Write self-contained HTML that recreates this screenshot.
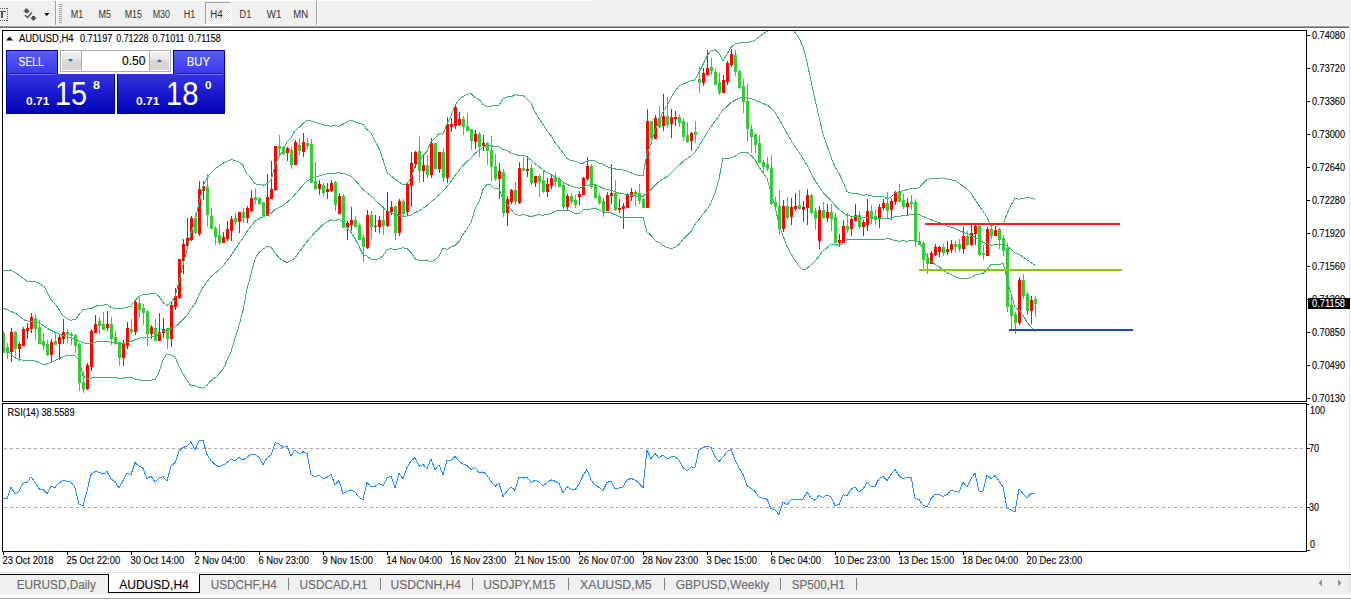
<!DOCTYPE html>
<html><head><meta charset="utf-8"><style>
html,body{margin:0;padding:0;width:1351px;height:600px;overflow:hidden;background:#fff;}
*{box-sizing:border-box;}
svg text{font-family:"Liberation Sans",sans-serif;}
</style></head><body>
<svg width="1351" height="600" viewBox="0 0 1351 600" style="position:absolute;left:0;top:0">
<!-- toolbar -->
<rect x="0" y="0" width="1351" height="26" fill="#f0f0f0"/>
<rect x="0" y="0" width="590" height="1" fill="#ffffff"/>
<rect x="0" y="25" width="1349" height="1" fill="#f8f8f8"/>
<rect x="0" y="26" width="1349" height="1" fill="#a0a0a0"/>
<rect x="0" y="27" width="1349" height="1" fill="#696969"/>
<rect x="1349" y="28" width="1" height="544" fill="#e3e3e3"/>
<g shape-rendering="crispEdges">
<rect x="55" y="1" width="1" height="24" fill="#a0a0a0"/><rect x="56" y="1" width="1" height="24" fill="#fff"/>
<rect x="316" y="1" width="1" height="24" fill="#a0a0a0"/><rect x="317" y="1" width="1" height="24" fill="#fff"/>
</g>
<!-- chart frames -->
<g shape-rendering="crispEdges" fill="none" stroke="#000" stroke-width="1">
<rect x="2.5" y="30.5" width="1304" height="371"/>
<rect x="2.5" y="403.5" width="1304" height="148"/>
</g>
<!-- RSI levels -->
<g shape-rendering="crispEdges">
<line x1="4" y1="448.5" x2="1306" y2="448.5" stroke="#a8a8a8" stroke-dasharray="3,3"/>
<line x1="4" y1="507.5" x2="1306" y2="507.5" stroke="#a8a8a8" stroke-dasharray="3,3"/>
</g>
<svg x="3" y="31" width="1303" height="370" viewBox="3 31 1303 370" overflow="hidden">
<g shape-rendering="crispEdges">
<rect x="3" y="331" width="1" height="22" fill="#32cd32"/><rect x="3" y="333" width="2" height="20" fill="#32cd32"/><rect x="7" y="343" width="1" height="16" fill="#32cd32"/><rect x="6" y="347" width="3" height="6" fill="#32cd32"/><rect x="11" y="328" width="1" height="34" fill="#ff0000"/><rect x="10" y="332" width="3" height="20" fill="#ff0000"/><rect x="15" y="331" width="1" height="28" fill="#32cd32"/><rect x="14" y="332" width="3" height="17" fill="#32cd32"/><rect x="19" y="342" width="1" height="19" fill="#ff0000"/><rect x="18" y="344" width="3" height="5" fill="#ff0000"/><rect x="23" y="327" width="1" height="19" fill="#ff0000"/><rect x="22" y="329" width="3" height="17" fill="#ff0000"/><rect x="27" y="323" width="1" height="16" fill="#ff0000"/><rect x="26" y="328" width="3" height="3" fill="#ff0000"/><rect x="31" y="313" width="1" height="20" fill="#ff0000"/><rect x="30" y="317" width="3" height="12" fill="#ff0000"/><rect x="35" y="314" width="1" height="26" fill="#32cd32"/><rect x="34" y="318" width="3" height="11" fill="#32cd32"/><rect x="39" y="320" width="1" height="24" fill="#32cd32"/><rect x="38" y="327" width="3" height="17" fill="#32cd32"/><rect x="43" y="333" width="1" height="17" fill="#32cd32"/><rect x="42" y="341" width="3" height="5" fill="#32cd32"/><rect x="47" y="340" width="1" height="16" fill="#32cd32"/><rect x="46" y="344" width="3" height="11" fill="#32cd32"/><rect x="51" y="339" width="1" height="22" fill="#ff0000"/><rect x="50" y="342" width="3" height="13" fill="#ff0000"/><rect x="55" y="333" width="1" height="12" fill="#32cd32"/><rect x="54" y="341" width="3" height="4" fill="#32cd32"/><rect x="59" y="335" width="1" height="25" fill="#ff0000"/><rect x="58" y="337" width="3" height="7" fill="#ff0000"/><rect x="63" y="319" width="1" height="25" fill="#ff0000"/><rect x="62" y="332" width="3" height="7" fill="#ff0000"/><rect x="67" y="329" width="1" height="14" fill="#32cd32"/><rect x="66" y="332" width="3" height="3" fill="#32cd32"/><rect x="71" y="332" width="1" height="13" fill="#32cd32"/><rect x="70" y="334" width="3" height="2" fill="#32cd32"/><rect x="75" y="334" width="1" height="19" fill="#32cd32"/><rect x="74" y="335" width="3" height="11" fill="#32cd32"/><rect x="79" y="343" width="1" height="48" fill="#32cd32"/><rect x="78" y="344" width="3" height="39" fill="#32cd32"/><rect x="83" y="371" width="1" height="22" fill="#32cd32"/><rect x="82" y="382" width="3" height="7" fill="#32cd32"/><rect x="87" y="363" width="1" height="27" fill="#ff0000"/><rect x="86" y="365" width="3" height="24" fill="#ff0000"/><rect x="91" y="329" width="1" height="42" fill="#ff0000"/><rect x="90" y="331" width="3" height="36" fill="#ff0000"/><rect x="95" y="315" width="1" height="18" fill="#ff0000"/><rect x="94" y="324" width="3" height="9" fill="#ff0000"/><rect x="99" y="317" width="1" height="17" fill="#32cd32"/><rect x="98" y="321" width="3" height="5" fill="#32cd32"/><rect x="103" y="312" width="1" height="18" fill="#32cd32"/><rect x="102" y="324" width="3" height="6" fill="#32cd32"/><rect x="107" y="311" width="1" height="20" fill="#ff0000"/><rect x="106" y="324" width="3" height="4" fill="#ff0000"/><rect x="111" y="317" width="1" height="28" fill="#32cd32"/><rect x="110" y="324" width="3" height="15" fill="#32cd32"/><rect x="115" y="331" width="1" height="14" fill="#32cd32"/><rect x="114" y="337" width="3" height="7" fill="#32cd32"/><rect x="119" y="342" width="1" height="24" fill="#32cd32"/><rect x="118" y="342" width="3" height="16" fill="#32cd32"/><rect x="123" y="340" width="1" height="26" fill="#ff0000"/><rect x="122" y="343" width="3" height="15" fill="#ff0000"/><rect x="127" y="322" width="1" height="27" fill="#ff0000"/><rect x="126" y="328" width="3" height="18" fill="#ff0000"/><rect x="131" y="319" width="1" height="15" fill="#32cd32"/><rect x="130" y="329" width="3" height="3" fill="#32cd32"/><rect x="135" y="301" width="1" height="34" fill="#ff0000"/><rect x="134" y="302" width="3" height="30" fill="#ff0000"/><rect x="139" y="298" width="1" height="20" fill="#32cd32"/><rect x="138" y="303" width="3" height="7" fill="#32cd32"/><rect x="143" y="304" width="1" height="21" fill="#32cd32"/><rect x="142" y="308" width="3" height="5" fill="#32cd32"/><rect x="147" y="311" width="1" height="35" fill="#32cd32"/><rect x="146" y="311" width="3" height="23" fill="#32cd32"/><rect x="151" y="325" width="1" height="14" fill="#ff0000"/><rect x="150" y="327" width="3" height="7" fill="#ff0000"/><rect x="155" y="319" width="1" height="22" fill="#32cd32"/><rect x="154" y="328" width="3" height="13" fill="#32cd32"/><rect x="159" y="313" width="1" height="28" fill="#ff0000"/><rect x="158" y="332" width="3" height="9" fill="#ff0000"/><rect x="163" y="318" width="1" height="20" fill="#ff0000"/><rect x="162" y="329" width="3" height="4" fill="#ff0000"/><rect x="167" y="328" width="1" height="21" fill="#32cd32"/><rect x="166" y="328" width="3" height="11" fill="#32cd32"/><rect x="171" y="302" width="1" height="45" fill="#ff0000"/><rect x="170" y="305" width="3" height="34" fill="#ff0000"/><rect x="175" y="288" width="1" height="22" fill="#ff0000"/><rect x="174" y="296" width="3" height="11" fill="#ff0000"/><rect x="179" y="259" width="1" height="40" fill="#ff0000"/><rect x="178" y="259" width="3" height="39" fill="#ff0000"/><rect x="183" y="239" width="1" height="35" fill="#ff0000"/><rect x="182" y="244" width="3" height="17" fill="#ff0000"/><rect x="187" y="218" width="1" height="30" fill="#ff0000"/><rect x="186" y="238" width="3" height="8" fill="#ff0000"/><rect x="191" y="216" width="1" height="25" fill="#ff0000"/><rect x="190" y="218" width="3" height="22" fill="#ff0000"/><rect x="195" y="213" width="1" height="21" fill="#32cd32"/><rect x="194" y="218" width="3" height="15" fill="#32cd32"/><rect x="199" y="181" width="1" height="55" fill="#ff0000"/><rect x="198" y="189" width="3" height="45" fill="#ff0000"/><rect x="203" y="181" width="1" height="19" fill="#ff0000"/><rect x="202" y="186" width="3" height="5" fill="#ff0000"/><rect x="207" y="174" width="1" height="53" fill="#32cd32"/><rect x="206" y="187" width="3" height="28" fill="#32cd32"/><rect x="211" y="208" width="1" height="21" fill="#32cd32"/><rect x="210" y="216" width="3" height="13" fill="#32cd32"/><rect x="215" y="226" width="1" height="19" fill="#32cd32"/><rect x="214" y="228" width="3" height="9" fill="#32cd32"/><rect x="219" y="224" width="1" height="21" fill="#32cd32"/><rect x="218" y="235" width="3" height="8" fill="#32cd32"/><rect x="223" y="232" width="1" height="11" fill="#ff0000"/><rect x="222" y="237" width="3" height="6" fill="#ff0000"/><rect x="227" y="221" width="1" height="20" fill="#ff0000"/><rect x="226" y="229" width="3" height="10" fill="#ff0000"/><rect x="231" y="216" width="1" height="25" fill="#ff0000"/><rect x="230" y="219" width="3" height="12" fill="#ff0000"/><rect x="235" y="213" width="1" height="12" fill="#32cd32"/><rect x="234" y="218" width="3" height="4" fill="#32cd32"/><rect x="239" y="212" width="1" height="21" fill="#ff0000"/><rect x="238" y="212" width="3" height="10" fill="#ff0000"/><rect x="243" y="208" width="1" height="15" fill="#32cd32"/><rect x="242" y="212" width="3" height="6" fill="#32cd32"/><rect x="247" y="206" width="1" height="17" fill="#ff0000"/><rect x="246" y="208" width="3" height="10" fill="#ff0000"/><rect x="251" y="190" width="1" height="22" fill="#ff0000"/><rect x="250" y="198" width="3" height="13" fill="#ff0000"/><rect x="255" y="189" width="1" height="15" fill="#32cd32"/><rect x="254" y="197" width="3" height="3" fill="#32cd32"/><rect x="259" y="197" width="1" height="8" fill="#32cd32"/><rect x="258" y="198" width="3" height="6" fill="#32cd32"/><rect x="263" y="202" width="1" height="14" fill="#32cd32"/><rect x="262" y="202" width="3" height="14" fill="#32cd32"/><rect x="267" y="174" width="1" height="42" fill="#ff0000"/><rect x="266" y="197" width="3" height="19" fill="#ff0000"/><rect x="271" y="161" width="1" height="38" fill="#ff0000"/><rect x="270" y="189" width="3" height="10" fill="#ff0000"/><rect x="275" y="146" width="1" height="45" fill="#ff0000"/><rect x="274" y="146" width="3" height="44" fill="#ff0000"/><rect x="279" y="135" width="1" height="20" fill="#32cd32"/><rect x="278" y="146" width="3" height="3" fill="#32cd32"/><rect x="283" y="146" width="1" height="9" fill="#32cd32"/><rect x="282" y="147" width="3" height="7" fill="#32cd32"/><rect x="287" y="147" width="1" height="14" fill="#ff0000"/><rect x="286" y="148" width="3" height="5" fill="#ff0000"/><rect x="291" y="147" width="1" height="22" fill="#32cd32"/><rect x="290" y="150" width="3" height="15" fill="#32cd32"/><rect x="295" y="140" width="1" height="25" fill="#ff0000"/><rect x="294" y="142" width="3" height="23" fill="#ff0000"/><rect x="299" y="138" width="1" height="17" fill="#32cd32"/><rect x="298" y="145" width="3" height="6" fill="#32cd32"/><rect x="303" y="133" width="1" height="24" fill="#ff0000"/><rect x="302" y="142" width="3" height="10" fill="#ff0000"/><rect x="307" y="138" width="1" height="11" fill="#32cd32"/><rect x="306" y="143" width="3" height="3" fill="#32cd32"/><rect x="311" y="139" width="1" height="44" fill="#32cd32"/><rect x="310" y="144" width="3" height="39" fill="#32cd32"/><rect x="315" y="162" width="1" height="28" fill="#32cd32"/><rect x="314" y="181" width="3" height="8" fill="#32cd32"/><rect x="319" y="180" width="1" height="15" fill="#ff0000"/><rect x="318" y="184" width="3" height="5" fill="#ff0000"/><rect x="323" y="183" width="1" height="14" fill="#32cd32"/><rect x="322" y="185" width="3" height="8" fill="#32cd32"/><rect x="327" y="183" width="1" height="16" fill="#ff0000"/><rect x="326" y="189" width="3" height="3" fill="#ff0000"/><rect x="331" y="180" width="1" height="12" fill="#ff0000"/><rect x="330" y="183" width="3" height="8" fill="#ff0000"/><rect x="335" y="181" width="1" height="30" fill="#32cd32"/><rect x="334" y="182" width="3" height="23" fill="#32cd32"/><rect x="339" y="193" width="1" height="21" fill="#ff0000"/><rect x="338" y="196" width="3" height="18" fill="#ff0000"/><rect x="343" y="194" width="1" height="34" fill="#32cd32"/><rect x="342" y="196" width="3" height="32" fill="#32cd32"/><rect x="347" y="221" width="1" height="19" fill="#ff0000"/><rect x="346" y="223" width="3" height="5" fill="#ff0000"/><rect x="351" y="207" width="1" height="24" fill="#ff0000"/><rect x="350" y="220" width="3" height="5" fill="#ff0000"/><rect x="355" y="216" width="1" height="12" fill="#32cd32"/><rect x="354" y="220" width="3" height="7" fill="#32cd32"/><rect x="359" y="223" width="1" height="17" fill="#32cd32"/><rect x="358" y="225" width="3" height="15" fill="#32cd32"/><rect x="363" y="234" width="1" height="28" fill="#32cd32"/><rect x="362" y="237" width="3" height="10" fill="#32cd32"/><rect x="367" y="210" width="1" height="39" fill="#ff0000"/><rect x="366" y="215" width="3" height="33" fill="#ff0000"/><rect x="371" y="211" width="1" height="28" fill="#32cd32"/><rect x="370" y="215" width="3" height="12" fill="#32cd32"/><rect x="375" y="215" width="1" height="17" fill="#ff0000"/><rect x="374" y="226" width="3" height="1" fill="#ff0000"/><rect x="379" y="216" width="1" height="17" fill="#ff0000"/><rect x="378" y="220" width="3" height="7" fill="#ff0000"/><rect x="383" y="206" width="1" height="29" fill="#32cd32"/><rect x="382" y="220" width="3" height="6" fill="#32cd32"/><rect x="387" y="192" width="1" height="35" fill="#ff0000"/><rect x="386" y="211" width="3" height="15" fill="#ff0000"/><rect x="391" y="201" width="1" height="14" fill="#ff0000"/><rect x="390" y="207" width="3" height="5" fill="#ff0000"/><rect x="395" y="206" width="1" height="34" fill="#32cd32"/><rect x="394" y="206" width="3" height="27" fill="#32cd32"/><rect x="399" y="199" width="1" height="37" fill="#ff0000"/><rect x="398" y="201" width="3" height="32" fill="#ff0000"/><rect x="403" y="199" width="1" height="17" fill="#32cd32"/><rect x="402" y="201" width="3" height="13" fill="#32cd32"/><rect x="407" y="184" width="1" height="32" fill="#ff0000"/><rect x="406" y="184" width="3" height="28" fill="#ff0000"/><rect x="411" y="152" width="1" height="55" fill="#ff0000"/><rect x="410" y="163" width="3" height="23" fill="#ff0000"/><rect x="415" y="151" width="1" height="17" fill="#ff0000"/><rect x="414" y="152" width="3" height="12" fill="#ff0000"/><rect x="419" y="137" width="1" height="46" fill="#32cd32"/><rect x="418" y="151" width="3" height="20" fill="#32cd32"/><rect x="423" y="156" width="1" height="26" fill="#ff0000"/><rect x="422" y="165" width="3" height="6" fill="#ff0000"/><rect x="427" y="155" width="1" height="23" fill="#32cd32"/><rect x="426" y="165" width="3" height="10" fill="#32cd32"/><rect x="431" y="138" width="1" height="40" fill="#ff0000"/><rect x="430" y="143" width="3" height="32" fill="#ff0000"/><rect x="435" y="143" width="1" height="26" fill="#32cd32"/><rect x="434" y="143" width="3" height="26" fill="#32cd32"/><rect x="439" y="152" width="1" height="21" fill="#ff0000"/><rect x="438" y="152" width="3" height="17" fill="#ff0000"/><rect x="443" y="148" width="1" height="34" fill="#32cd32"/><rect x="442" y="152" width="3" height="26" fill="#32cd32"/><rect x="447" y="117" width="1" height="66" fill="#ff0000"/><rect x="446" y="124" width="3" height="54" fill="#ff0000"/><rect x="451" y="118" width="1" height="14" fill="#ff0000"/><rect x="450" y="124" width="3" height="3" fill="#ff0000"/><rect x="455" y="104" width="1" height="25" fill="#ff0000"/><rect x="454" y="107" width="3" height="19" fill="#ff0000"/><rect x="459" y="112" width="1" height="14" fill="#ff0000"/><rect x="458" y="119" width="3" height="6" fill="#ff0000"/><rect x="463" y="116" width="1" height="19" fill="#32cd32"/><rect x="462" y="119" width="3" height="8" fill="#32cd32"/><rect x="467" y="113" width="1" height="19" fill="#32cd32"/><rect x="466" y="126" width="3" height="5" fill="#32cd32"/><rect x="471" y="129" width="1" height="21" fill="#32cd32"/><rect x="470" y="129" width="3" height="12" fill="#32cd32"/><rect x="475" y="130" width="1" height="19" fill="#ff0000"/><rect x="474" y="134" width="3" height="8" fill="#ff0000"/><rect x="479" y="132" width="1" height="25" fill="#32cd32"/><rect x="478" y="134" width="3" height="13" fill="#32cd32"/><rect x="483" y="135" width="1" height="16" fill="#ff0000"/><rect x="482" y="143" width="3" height="3" fill="#ff0000"/><rect x="487" y="142" width="1" height="23" fill="#32cd32"/><rect x="486" y="143" width="3" height="8" fill="#32cd32"/><rect x="491" y="136" width="1" height="45" fill="#32cd32"/><rect x="490" y="150" width="3" height="17" fill="#32cd32"/><rect x="495" y="154" width="1" height="27" fill="#32cd32"/><rect x="494" y="166" width="3" height="13" fill="#32cd32"/><rect x="499" y="163" width="1" height="36" fill="#ff0000"/><rect x="498" y="171" width="3" height="8" fill="#ff0000"/><rect x="503" y="169" width="1" height="48" fill="#32cd32"/><rect x="502" y="172" width="3" height="41" fill="#32cd32"/><rect x="507" y="196" width="1" height="30" fill="#ff0000"/><rect x="506" y="199" width="3" height="14" fill="#ff0000"/><rect x="511" y="189" width="1" height="15" fill="#ff0000"/><rect x="510" y="190" width="3" height="12" fill="#ff0000"/><rect x="515" y="182" width="1" height="23" fill="#32cd32"/><rect x="514" y="190" width="3" height="12" fill="#32cd32"/><rect x="519" y="162" width="1" height="42" fill="#ff0000"/><rect x="518" y="168" width="3" height="35" fill="#ff0000"/><rect x="523" y="157" width="1" height="14" fill="#32cd32"/><rect x="522" y="168" width="3" height="3" fill="#32cd32"/><rect x="527" y="156" width="1" height="21" fill="#ff0000"/><rect x="526" y="169" width="3" height="2" fill="#ff0000"/><rect x="531" y="164" width="1" height="21" fill="#32cd32"/><rect x="530" y="168" width="3" height="15" fill="#32cd32"/><rect x="535" y="176" width="1" height="11" fill="#ff0000"/><rect x="534" y="176" width="3" height="7" fill="#ff0000"/><rect x="539" y="174" width="1" height="23" fill="#32cd32"/><rect x="538" y="176" width="3" height="6" fill="#32cd32"/><rect x="543" y="170" width="1" height="23" fill="#32cd32"/><rect x="542" y="180" width="3" height="12" fill="#32cd32"/><rect x="547" y="178" width="1" height="19" fill="#ff0000"/><rect x="546" y="184" width="3" height="8" fill="#ff0000"/><rect x="551" y="175" width="1" height="14" fill="#ff0000"/><rect x="550" y="178" width="3" height="8" fill="#ff0000"/><rect x="555" y="173" width="1" height="14" fill="#32cd32"/><rect x="554" y="177" width="3" height="5" fill="#32cd32"/><rect x="559" y="177" width="1" height="10" fill="#32cd32"/><rect x="558" y="179" width="3" height="8" fill="#32cd32"/><rect x="563" y="182" width="1" height="27" fill="#32cd32"/><rect x="562" y="185" width="3" height="22" fill="#32cd32"/><rect x="567" y="194" width="1" height="17" fill="#ff0000"/><rect x="566" y="196" width="3" height="11" fill="#ff0000"/><rect x="571" y="193" width="1" height="11" fill="#32cd32"/><rect x="570" y="196" width="3" height="6" fill="#32cd32"/><rect x="575" y="195" width="1" height="13" fill="#32cd32"/><rect x="574" y="200" width="3" height="5" fill="#32cd32"/><rect x="579" y="191" width="1" height="14" fill="#ff0000"/><rect x="578" y="194" width="3" height="3" fill="#ff0000"/><rect x="583" y="177" width="1" height="18" fill="#ff0000"/><rect x="582" y="178" width="3" height="17" fill="#ff0000"/><rect x="587" y="157" width="1" height="24" fill="#ff0000"/><rect x="586" y="166" width="3" height="13" fill="#ff0000"/><rect x="591" y="164" width="1" height="25" fill="#32cd32"/><rect x="590" y="166" width="3" height="21" fill="#32cd32"/><rect x="595" y="184" width="1" height="15" fill="#32cd32"/><rect x="594" y="185" width="3" height="13" fill="#32cd32"/><rect x="599" y="193" width="1" height="12" fill="#32cd32"/><rect x="598" y="196" width="3" height="7" fill="#32cd32"/><rect x="603" y="198" width="1" height="19" fill="#32cd32"/><rect x="602" y="201" width="3" height="10" fill="#32cd32"/><rect x="607" y="192" width="1" height="19" fill="#ff0000"/><rect x="606" y="195" width="3" height="16" fill="#ff0000"/><rect x="611" y="164" width="1" height="40" fill="#ff0000"/><rect x="610" y="193" width="3" height="3" fill="#ff0000"/><rect x="615" y="180" width="1" height="31" fill="#32cd32"/><rect x="614" y="193" width="3" height="17" fill="#32cd32"/><rect x="619" y="199" width="1" height="14" fill="#ff0000"/><rect x="618" y="208" width="3" height="2" fill="#ff0000"/><rect x="623" y="203" width="1" height="26" fill="#ff0000"/><rect x="622" y="206" width="3" height="3" fill="#ff0000"/><rect x="627" y="193" width="1" height="15" fill="#ff0000"/><rect x="626" y="194" width="3" height="14" fill="#ff0000"/><rect x="631" y="188" width="1" height="13" fill="#ff0000"/><rect x="630" y="192" width="3" height="5" fill="#ff0000"/><rect x="635" y="190" width="1" height="16" fill="#32cd32"/><rect x="634" y="192" width="3" height="3" fill="#32cd32"/><rect x="639" y="184" width="1" height="20" fill="#32cd32"/><rect x="638" y="193" width="3" height="8" fill="#32cd32"/><rect x="643" y="198" width="1" height="10" fill="#32cd32"/><rect x="642" y="199" width="3" height="9" fill="#32cd32"/><rect x="647" y="109" width="1" height="99" fill="#ff0000"/><rect x="646" y="121" width="3" height="87" fill="#ff0000"/><rect x="651" y="121" width="1" height="18" fill="#32cd32"/><rect x="650" y="121" width="3" height="17" fill="#32cd32"/><rect x="655" y="115" width="1" height="24" fill="#ff0000"/><rect x="654" y="118" width="3" height="21" fill="#ff0000"/><rect x="659" y="106" width="1" height="22" fill="#32cd32"/><rect x="658" y="118" width="3" height="9" fill="#32cd32"/><rect x="663" y="94" width="1" height="37" fill="#ff0000"/><rect x="662" y="116" width="3" height="10" fill="#ff0000"/><rect x="667" y="97" width="1" height="31" fill="#32cd32"/><rect x="666" y="116" width="3" height="9" fill="#32cd32"/><rect x="671" y="109" width="1" height="29" fill="#ff0000"/><rect x="670" y="117" width="3" height="7" fill="#ff0000"/><rect x="675" y="111" width="1" height="15" fill="#ff0000"/><rect x="674" y="117" width="3" height="2" fill="#ff0000"/><rect x="679" y="114" width="1" height="13" fill="#32cd32"/><rect x="678" y="117" width="3" height="6" fill="#32cd32"/><rect x="683" y="118" width="1" height="23" fill="#32cd32"/><rect x="682" y="121" width="3" height="16" fill="#32cd32"/><rect x="687" y="122" width="1" height="21" fill="#32cd32"/><rect x="686" y="135" width="3" height="7" fill="#32cd32"/><rect x="691" y="132" width="1" height="19" fill="#ff0000"/><rect x="690" y="133" width="3" height="8" fill="#ff0000"/><rect x="695" y="121" width="1" height="22" fill="#32cd32"/><rect x="694" y="132" width="3" height="3" fill="#32cd32"/><rect x="699" y="67" width="1" height="26" fill="#32cd32"/><rect x="698" y="79" width="3" height="4" fill="#32cd32"/><rect x="703" y="68" width="1" height="18" fill="#ff0000"/><rect x="702" y="73" width="3" height="10" fill="#ff0000"/><rect x="707" y="50" width="1" height="26" fill="#ff0000"/><rect x="706" y="68" width="3" height="7" fill="#ff0000"/><rect x="711" y="58" width="1" height="17" fill="#32cd32"/><rect x="710" y="67" width="3" height="4" fill="#32cd32"/><rect x="715" y="68" width="1" height="17" fill="#32cd32"/><rect x="714" y="72" width="3" height="13" fill="#32cd32"/><rect x="719" y="73" width="1" height="22" fill="#32cd32"/><rect x="718" y="82" width="3" height="11" fill="#32cd32"/><rect x="723" y="75" width="1" height="18" fill="#ff0000"/><rect x="722" y="80" width="3" height="13" fill="#ff0000"/><rect x="727" y="61" width="1" height="24" fill="#ff0000"/><rect x="726" y="63" width="3" height="19" fill="#ff0000"/><rect x="731" y="49" width="1" height="18" fill="#ff0000"/><rect x="730" y="54" width="3" height="11" fill="#ff0000"/><rect x="735" y="50" width="1" height="26" fill="#32cd32"/><rect x="734" y="55" width="3" height="17" fill="#32cd32"/><rect x="739" y="70" width="1" height="19" fill="#32cd32"/><rect x="738" y="71" width="3" height="17" fill="#32cd32"/><rect x="743" y="79" width="1" height="34" fill="#32cd32"/><rect x="742" y="86" width="3" height="16" fill="#32cd32"/><rect x="747" y="84" width="1" height="58" fill="#32cd32"/><rect x="746" y="101" width="3" height="28" fill="#32cd32"/><rect x="751" y="125" width="1" height="28" fill="#32cd32"/><rect x="750" y="129" width="3" height="8" fill="#32cd32"/><rect x="755" y="134" width="1" height="19" fill="#32cd32"/><rect x="754" y="134" width="3" height="11" fill="#32cd32"/><rect x="759" y="135" width="1" height="28" fill="#32cd32"/><rect x="758" y="143" width="3" height="20" fill="#32cd32"/><rect x="763" y="160" width="1" height="13" fill="#32cd32"/><rect x="762" y="162" width="3" height="5" fill="#32cd32"/><rect x="767" y="157" width="1" height="14" fill="#32cd32"/><rect x="766" y="164" width="3" height="5" fill="#32cd32"/><rect x="771" y="155" width="1" height="50" fill="#32cd32"/><rect x="770" y="168" width="3" height="36" fill="#32cd32"/><rect x="775" y="197" width="1" height="12" fill="#32cd32"/><rect x="774" y="202" width="3" height="5" fill="#32cd32"/><rect x="779" y="190" width="1" height="45" fill="#32cd32"/><rect x="778" y="206" width="3" height="23" fill="#32cd32"/><rect x="783" y="200" width="1" height="32" fill="#ff0000"/><rect x="782" y="206" width="3" height="23" fill="#ff0000"/><rect x="787" y="197" width="1" height="22" fill="#32cd32"/><rect x="786" y="206" width="3" height="12" fill="#32cd32"/><rect x="791" y="198" width="1" height="27" fill="#ff0000"/><rect x="790" y="207" width="3" height="10" fill="#ff0000"/><rect x="795" y="193" width="1" height="18" fill="#ff0000"/><rect x="794" y="206" width="3" height="3" fill="#ff0000"/><rect x="799" y="190" width="1" height="20" fill="#32cd32"/><rect x="798" y="205" width="3" height="4" fill="#32cd32"/><rect x="803" y="201" width="1" height="21" fill="#ff0000"/><rect x="802" y="207" width="3" height="3" fill="#ff0000"/><rect x="807" y="189" width="1" height="36" fill="#ff0000"/><rect x="806" y="195" width="3" height="13" fill="#ff0000"/><rect x="811" y="194" width="1" height="20" fill="#32cd32"/><rect x="810" y="195" width="3" height="18" fill="#32cd32"/><rect x="815" y="208" width="1" height="22" fill="#32cd32"/><rect x="814" y="211" width="3" height="8" fill="#32cd32"/><rect x="819" y="206" width="1" height="43" fill="#ff0000"/><rect x="818" y="210" width="3" height="31" fill="#ff0000"/><rect x="823" y="202" width="1" height="17" fill="#32cd32"/><rect x="822" y="210" width="3" height="8" fill="#32cd32"/><rect x="827" y="204" width="1" height="18" fill="#ff0000"/><rect x="826" y="212" width="3" height="6" fill="#ff0000"/><rect x="831" y="204" width="1" height="27" fill="#32cd32"/><rect x="830" y="212" width="3" height="7" fill="#32cd32"/><rect x="835" y="213" width="1" height="30" fill="#32cd32"/><rect x="834" y="217" width="3" height="26" fill="#32cd32"/><rect x="839" y="234" width="1" height="13" fill="#ff0000"/><rect x="838" y="240" width="3" height="3" fill="#ff0000"/><rect x="843" y="220" width="1" height="23" fill="#ff0000"/><rect x="842" y="226" width="3" height="17" fill="#ff0000"/><rect x="847" y="213" width="1" height="20" fill="#32cd32"/><rect x="846" y="226" width="3" height="4" fill="#32cd32"/><rect x="851" y="216" width="1" height="20" fill="#ff0000"/><rect x="850" y="219" width="3" height="10" fill="#ff0000"/><rect x="855" y="204" width="1" height="17" fill="#ff0000"/><rect x="854" y="215" width="3" height="6" fill="#ff0000"/><rect x="859" y="211" width="1" height="18" fill="#32cd32"/><rect x="858" y="215" width="3" height="12" fill="#32cd32"/><rect x="863" y="220" width="1" height="16" fill="#ff0000"/><rect x="862" y="222" width="3" height="5" fill="#ff0000"/><rect x="867" y="199" width="1" height="32" fill="#ff0000"/><rect x="866" y="211" width="3" height="14" fill="#ff0000"/><rect x="871" y="205" width="1" height="19" fill="#32cd32"/><rect x="870" y="211" width="3" height="8" fill="#32cd32"/><rect x="875" y="209" width="1" height="16" fill="#32cd32"/><rect x="874" y="216" width="3" height="4" fill="#32cd32"/><rect x="879" y="204" width="1" height="24" fill="#ff0000"/><rect x="878" y="207" width="3" height="12" fill="#ff0000"/><rect x="883" y="199" width="1" height="11" fill="#ff0000"/><rect x="882" y="203" width="3" height="5" fill="#ff0000"/><rect x="887" y="192" width="1" height="26" fill="#32cd32"/><rect x="886" y="203" width="3" height="8" fill="#32cd32"/><rect x="891" y="199" width="1" height="21" fill="#ff0000"/><rect x="890" y="201" width="3" height="9" fill="#ff0000"/><rect x="895" y="191" width="1" height="14" fill="#ff0000"/><rect x="894" y="192" width="3" height="10" fill="#ff0000"/><rect x="899" y="184" width="1" height="18" fill="#32cd32"/><rect x="898" y="192" width="3" height="10" fill="#32cd32"/><rect x="903" y="194" width="1" height="15" fill="#32cd32"/><rect x="902" y="200" width="3" height="7" fill="#32cd32"/><rect x="907" y="198" width="1" height="17" fill="#ff0000"/><rect x="906" y="203" width="3" height="4" fill="#ff0000"/><rect x="911" y="195" width="1" height="15" fill="#32cd32"/><rect x="910" y="202" width="3" height="2" fill="#32cd32"/><rect x="915" y="199" width="1" height="48" fill="#32cd32"/><rect x="914" y="202" width="3" height="40" fill="#32cd32"/><rect x="919" y="232" width="1" height="13" fill="#32cd32"/><rect x="918" y="241" width="3" height="4" fill="#32cd32"/><rect x="923" y="241" width="1" height="29" fill="#32cd32"/><rect x="922" y="243" width="3" height="17" fill="#32cd32"/><rect x="927" y="253" width="1" height="21" fill="#32cd32"/><rect x="926" y="258" width="3" height="6" fill="#32cd32"/><rect x="931" y="251" width="1" height="13" fill="#ff0000"/><rect x="930" y="253" width="3" height="11" fill="#ff0000"/><rect x="935" y="244" width="1" height="12" fill="#ff0000"/><rect x="934" y="247" width="3" height="8" fill="#ff0000"/><rect x="939" y="246" width="1" height="11" fill="#ff0000"/><rect x="938" y="247" width="3" height="5" fill="#ff0000"/><rect x="943" y="244" width="1" height="12" fill="#32cd32"/><rect x="942" y="247" width="3" height="6" fill="#32cd32"/><rect x="947" y="241" width="1" height="14" fill="#ff0000"/><rect x="946" y="249" width="3" height="3" fill="#ff0000"/><rect x="951" y="240" width="1" height="13" fill="#ff0000"/><rect x="950" y="244" width="3" height="6" fill="#ff0000"/><rect x="955" y="241" width="1" height="12" fill="#32cd32"/><rect x="954" y="244" width="3" height="3" fill="#32cd32"/><rect x="959" y="239" width="1" height="13" fill="#32cd32"/><rect x="958" y="244" width="3" height="5" fill="#32cd32"/><rect x="963" y="227" width="1" height="27" fill="#ff0000"/><rect x="962" y="236" width="3" height="13" fill="#ff0000"/><rect x="967" y="231" width="1" height="15" fill="#32cd32"/><rect x="966" y="236" width="3" height="9" fill="#32cd32"/><rect x="971" y="225" width="1" height="21" fill="#ff0000"/><rect x="970" y="233" width="3" height="12" fill="#ff0000"/><rect x="975" y="225" width="1" height="20" fill="#ff0000"/><rect x="974" y="226" width="3" height="8" fill="#ff0000"/><rect x="979" y="225" width="1" height="31" fill="#32cd32"/><rect x="978" y="226" width="3" height="29" fill="#32cd32"/><rect x="983" y="245" width="1" height="15" fill="#32cd32"/><rect x="982" y="253" width="3" height="2" fill="#32cd32"/><rect x="987" y="227" width="1" height="29" fill="#ff0000"/><rect x="986" y="229" width="3" height="27" fill="#ff0000"/><rect x="991" y="225" width="1" height="14" fill="#32cd32"/><rect x="990" y="229" width="3" height="7" fill="#32cd32"/><rect x="995" y="226" width="1" height="10" fill="#ff0000"/><rect x="994" y="230" width="3" height="6" fill="#ff0000"/><rect x="999" y="228" width="1" height="21" fill="#32cd32"/><rect x="998" y="229" width="3" height="11" fill="#32cd32"/><rect x="1003" y="235" width="1" height="21" fill="#32cd32"/><rect x="1002" y="238" width="3" height="13" fill="#32cd32"/><rect x="1007" y="243" width="1" height="69" fill="#32cd32"/><rect x="1006" y="248" width="3" height="59" fill="#32cd32"/><rect x="1011" y="295" width="1" height="35" fill="#32cd32"/><rect x="1010" y="305" width="3" height="11" fill="#32cd32"/><rect x="1015" y="312" width="1" height="22" fill="#32cd32"/><rect x="1014" y="314" width="3" height="9" fill="#32cd32"/><rect x="1019" y="277" width="1" height="48" fill="#ff0000"/><rect x="1018" y="280" width="3" height="43" fill="#ff0000"/><rect x="1023" y="274" width="1" height="25" fill="#32cd32"/><rect x="1022" y="280" width="3" height="16" fill="#32cd32"/><rect x="1027" y="292" width="1" height="23" fill="#32cd32"/><rect x="1026" y="294" width="3" height="17" fill="#32cd32"/><rect x="1031" y="296" width="1" height="28" fill="#ff0000"/><rect x="1030" y="300" width="3" height="11" fill="#ff0000"/><rect x="1035" y="296" width="1" height="21" fill="#32cd32"/><rect x="1034" y="299" width="3" height="5" fill="#32cd32"/>
</g>
<g fill="none" stroke="#3cb371" stroke-width="1" shape-rendering="crispEdges">
<polyline points="2.8,270.5 10.5,270.0 17.5,274.0 26.8,281.0 37.3,282.2 44.3,286.8 50.2,298.5 57.2,306.7 63.0,316.0 70.0,320.2 75.8,319.5 79.0,314.4 83.0,309.5 87.0,309.0 91.0,308.8 95.0,306.7 99.0,305.0 103.0,305.1 107.0,304.5 111.0,307.3 115.0,308.7 119.0,308.9 123.0,308.9 127.0,307.3 131.0,306.3 135.0,300.4 139.0,296.7 143.0,294.3 147.0,294.3 151.0,293.6 155.0,293.5 159.0,296.4 163.0,302.7 167.0,305.6 171.0,302.0 175.0,297.1 179.0,281.5 183.0,265.0 187.0,250.1 191.0,232.5 195.0,221.6 199.0,202.9 203.0,186.5 207.0,177.8 211.0,172.8 215.0,168.8 219.0,166.0 223.0,163.2 227.0,161.5 231.0,159.4 235.0,160.7 239.0,161.8 243.0,165.5 247.0,174.1 251.0,178.0 255.0,183.9 259.0,184.6 263.0,185.2 267.0,183.6 271.0,180.2 275.0,165.8 279.0,156.8 283.0,150.5 287.0,142.0 291.0,137.8 295.0,130.9 299.0,127.4 303.0,123.4 307.0,120.2 311.0,120.9 315.0,122.4 319.0,123.2 323.0,124.8 327.0,125.7 331.0,126.1 335.0,125.8 339.0,126.2 343.0,124.3 347.0,122.0 351.0,120.2 355.0,122.1 359.0,123.3 363.0,124.4 367.0,129.7 371.0,132.7 375.0,140.7 379.0,148.4 383.0,159.5 387.0,172.4 391.0,176.0 395.0,179.0 399.0,182.0 403.0,184.8 407.0,183.7 411.0,177.8 415.0,166.3 419.0,161.9 423.0,155.5 427.0,151.5 431.0,141.6 435.0,138.1 439.0,133.4 443.0,134.2 447.0,123.8 451.0,115.9 455.0,105.7 459.0,99.6 463.0,96.7 467.0,94.3 471.0,93.7 475.0,97.6 479.0,99.3 483.0,104.6 487.0,106.4 491.0,106.2 495.0,105.1 499.0,105.0 503.0,99.2 507.0,96.8 511.0,96.7 515.0,94.8 519.0,95.3 523.0,95.4 527.0,99.1 531.0,103.2 535.0,111.8 539.0,118.6 543.0,124.6 547.0,130.9 551.0,135.5 555.0,142.6 559.0,147.5 563.0,152.9 567.0,158.5 571.0,160.7 575.0,161.1 579.0,163.1 583.0,163.4 587.0,160.9 591.0,160.7 595.0,161.0 599.0,162.9 603.0,164.0 607.0,166.9 611.0,167.6 615.0,168.9 619.0,169.8 623.0,170.0 627.0,170.9 631.0,172.8 635.0,174.4 639.0,175.6 643.0,175.6 647.0,153.7 651.0,143.8 655.0,130.3 659.0,121.4 663.0,111.9 667.0,105.8 671.0,98.0 675.0,91.0 679.0,86.0 683.0,84.0 687.0,82.4 691.0,80.3 695.0,80.0 699.0,72.3 703.0,64.6 707.0,56.6 711.0,50.7 715.0,49.7 719.0,53.2 723.0,61.0 727.0,54.3 731.0,47.4 735.0,44.0 739.0,43.0 743.0,42.9 747.0,42.6 751.0,41.7 755.0,40.1 759.0,36.8 763.0,34.0 767.0,31.5 771.0,24.1 775.0,18.0 779.0,13.7 783.0,16.1 787.0,20.2 791.0,26.7 795.0,32.4 799.0,38.0 803.0,47.0 807.0,61.7 811.0,81.2 815.0,99.4 819.0,117.0 823.0,133.9 827.0,145.5 831.0,157.2 835.0,166.9 839.0,173.3 843.0,181.7 847.0,191.6 851.0,193.1 855.0,193.9 859.0,194.0 863.0,195.3 867.0,194.8 871.0,195.8 875.0,197.0 879.0,196.9 883.0,196.2 887.0,199.1 891.0,197.2 895.0,193.0 899.0,191.6 903.0,190.7 907.0,189.6 911.0,188.3 915.0,188.5 919.0,187.8 923.0,183.6 927.0,179.7 931.0,178.5 935.0,178.6 939.0,178.2 943.0,177.9 947.0,179.0 951.0,179.8 955.0,180.6 959.0,183.0 963.0,186.3 967.0,188.9 971.0,193.2 975.0,199.5 979.0,205.5 983.0,211.2 987.0,217.3 991.0,226.2 995.0,224.6 999.0,224.2 1003.0,224.7 1007.0,213.7 1011.0,205.1 1015.0,198.6 1019.0,199.1 1023.0,198.6 1027.0,197.3 1031.0,198.2 1035.0,199.2"/>
<polyline points="3.0,307.9 15.8,313.4 23.7,319.8 30.0,321.4 39.6,323.0 47.5,328.5 55.4,332.4 66.5,337.2 75.0,338.5 79.0,341.1 83.0,342.9 87.0,343.5 91.0,343.4 95.0,342.3 99.0,341.3 103.0,341.4 107.0,341.1 111.0,342.2 115.0,343.0 119.0,343.7 123.0,343.6 127.0,342.3 131.0,341.8 135.0,339.7 139.0,338.3 143.0,337.3 147.0,337.3 151.0,336.9 155.0,336.6 159.0,334.1 163.0,331.1 167.0,329.8 171.0,328.5 175.0,327.1 179.0,323.7 183.0,319.5 187.0,315.2 191.0,309.2 195.0,303.6 199.0,295.2 203.0,287.4 207.0,281.7 211.0,276.5 215.0,273.2 219.0,269.9 223.0,266.2 227.0,260.9 231.0,255.5 235.0,249.6 239.0,243.6 243.0,238.0 247.0,231.5 251.0,226.2 255.0,221.4 259.0,218.6 263.0,217.1 267.0,215.1 271.0,213.7 275.0,209.4 279.0,207.3 283.0,205.7 287.0,202.4 291.0,199.1 295.0,194.4 299.0,189.8 303.0,185.0 307.0,180.8 311.0,179.0 315.0,177.3 319.0,175.9 323.0,174.7 327.0,173.7 331.0,173.0 335.0,173.2 339.0,172.8 343.0,173.5 347.0,174.7 351.0,176.3 355.0,180.3 359.0,184.8 363.0,189.5 367.0,192.8 371.0,196.0 375.0,200.1 379.0,203.6 383.0,207.7 387.0,211.0 391.0,212.3 395.0,214.5 399.0,215.3 403.0,216.4 407.0,216.1 411.0,215.1 415.0,212.5 419.0,211.2 423.0,208.1 427.0,205.7 431.0,201.8 435.0,198.9 439.0,194.6 443.0,191.2 447.0,186.6 451.0,181.5 455.0,175.5 459.0,170.5 463.0,165.6 467.0,161.5 471.0,158.2 475.0,153.3 479.0,150.5 483.0,147.1 487.0,145.4 491.0,145.5 495.0,146.9 499.0,146.9 503.0,149.3 507.0,150.5 511.0,152.9 515.0,154.5 519.0,155.3 523.0,155.0 527.0,157.2 531.0,160.1 535.0,163.6 539.0,166.7 543.0,169.9 547.0,172.6 551.0,174.5 555.0,176.9 559.0,178.9 563.0,182.0 567.0,184.3 571.0,186.1 575.0,187.3 579.0,188.4 583.0,186.7 587.0,185.1 591.0,184.9 595.0,184.6 599.0,186.3 603.0,188.3 607.0,189.6 611.0,190.2 615.0,191.8 619.0,193.2 623.0,193.9 627.0,194.4 631.0,195.1 635.0,195.8 639.0,196.5 643.0,196.6 647.0,192.8 651.0,189.6 655.0,185.3 659.0,181.9 663.0,178.8 667.0,176.7 671.0,173.3 675.0,169.3 679.0,165.3 683.0,161.6 687.0,158.9 691.0,155.9 695.0,152.2 699.0,145.9 703.0,139.3 707.0,132.9 711.0,126.8 715.0,121.3 719.0,115.9 723.0,109.5 727.0,106.7 731.0,102.5 735.0,100.2 739.0,98.2 743.0,97.5 747.0,97.7 751.0,98.6 755.0,100.0 759.0,102.0 763.0,103.5 767.0,104.8 771.0,108.3 775.0,112.0 779.0,119.3 783.0,125.9 787.0,133.4 791.0,140.2 795.0,146.4 799.0,152.1 803.0,158.5 807.0,165.1 811.0,173.0 815.0,180.4 819.0,186.5 823.0,192.3 827.0,196.6 831.0,200.7 835.0,205.5 839.0,209.4 843.0,212.4 847.0,215.5 851.0,216.3 855.0,216.7 859.0,216.6 863.0,217.4 867.0,217.1 871.0,217.6 875.0,218.2 879.0,218.2 883.0,218.0 887.0,218.7 891.0,218.2 895.0,216.8 899.0,216.3 903.0,215.8 907.0,215.3 911.0,214.6 915.0,214.5 919.0,214.7 923.0,216.4 927.0,218.1 931.0,219.8 935.0,221.4 939.0,222.5 943.0,223.9 947.0,225.9 951.0,227.2 955.0,228.5 959.0,230.6 963.0,232.2 967.0,233.9 971.0,235.5 975.0,237.2 979.0,239.9 983.0,242.3 987.0,243.6 991.0,245.2 995.0,244.7 999.0,244.4 1003.0,244.0 1007.0,246.1 1011.0,249.2 1015.0,252.9 1019.0,254.6 1023.0,256.8 1027.0,259.8 1031.0,262.6 1035.0,265.4"/>
<polyline points="3.0,347.5 7.1,350.6 11.0,353.8 15.8,358.5 22.0,360.0 33.0,360.0 44.3,364.9 52.2,361.7 66.5,355.4 74.4,355.4 79.0,360.0 83.0,376.3 87.0,378.1 91.0,378.1 95.0,377.8 99.0,377.6 103.0,377.6 107.0,377.8 111.0,377.1 115.0,377.2 119.0,378.4 123.0,378.4 127.0,377.4 131.0,377.2 135.0,379.0 139.0,379.9 143.0,380.3 147.0,380.3 151.0,380.1 155.0,379.7 159.0,371.8 163.0,359.6 167.0,353.9 171.0,354.9 175.0,357.0 179.0,365.9 183.0,374.0 187.0,380.2 191.0,385.8 195.0,385.6 199.0,387.5 203.0,388.2 207.0,385.5 211.0,380.3 215.0,377.7 219.0,373.9 223.0,369.1 227.0,360.3 231.0,351.7 235.0,338.5 239.0,325.5 243.0,310.6 247.0,288.9 251.0,274.4 255.0,258.8 259.0,252.5 263.0,249.0 267.0,246.6 271.0,247.1 275.0,252.9 279.0,257.8 283.0,260.8 287.0,262.7 291.0,260.5 295.0,258.0 299.0,252.2 303.0,246.7 307.0,241.5 311.0,237.0 315.0,232.2 319.0,228.7 323.0,224.6 327.0,221.8 331.0,219.8 335.0,220.6 339.0,219.4 343.0,222.6 347.0,227.5 351.0,232.4 355.0,238.5 359.0,246.3 363.0,254.6 367.0,255.9 371.0,259.2 375.0,259.6 379.0,258.8 383.0,255.9 387.0,249.6 391.0,248.6 395.0,249.9 399.0,248.6 403.0,247.9 407.0,248.6 411.0,252.4 415.0,258.8 419.0,260.6 423.0,260.8 427.0,259.9 431.0,262.0 435.0,259.8 439.0,255.8 443.0,248.1 447.0,249.4 451.0,247.1 455.0,245.4 459.0,241.5 463.0,234.5 467.0,228.8 471.0,222.7 475.0,208.9 479.0,201.8 483.0,189.5 487.0,184.4 491.0,184.9 495.0,188.7 499.0,188.9 503.0,199.4 507.0,204.2 511.0,209.1 515.0,214.3 519.0,215.3 523.0,214.6 527.0,215.3 531.0,217.1 535.0,215.4 539.0,214.7 543.0,215.2 547.0,214.4 551.0,213.5 555.0,211.2 559.0,210.2 563.0,211.1 567.0,210.1 571.0,211.4 575.0,213.5 579.0,213.7 583.0,210.1 587.0,209.3 591.0,209.0 595.0,208.3 599.0,209.8 603.0,212.6 607.0,212.4 611.0,212.7 615.0,214.7 619.0,216.5 623.0,217.8 627.0,217.9 631.0,217.4 635.0,217.2 639.0,217.4 643.0,217.5 647.0,231.9 651.0,235.4 655.0,240.3 659.0,242.4 663.0,245.7 667.0,247.6 671.0,248.6 675.0,247.6 679.0,244.7 683.0,239.3 687.0,235.5 691.0,231.6 695.0,224.4 699.0,219.5 703.0,214.0 707.0,209.3 711.0,202.9 715.0,192.8 719.0,178.7 723.0,158.1 727.0,159.0 731.0,157.6 735.0,156.4 739.0,153.4 743.0,152.0 747.0,152.7 751.0,155.5 755.0,159.8 759.0,167.1 763.0,172.9 767.0,178.1 771.0,192.5 775.0,206.0 779.0,224.9 783.0,235.7 787.0,246.5 791.0,253.8 795.0,260.3 799.0,266.3 803.0,270.0 807.0,268.6 811.0,264.8 815.0,261.3 819.0,256.1 823.0,250.8 827.0,247.6 831.0,244.1 835.0,244.2 839.0,245.5 843.0,243.1 847.0,239.4 851.0,239.5 855.0,239.5 859.0,239.1 863.0,239.5 867.0,239.4 871.0,239.5 875.0,239.5 879.0,239.5 883.0,239.8 887.0,238.3 891.0,239.1 895.0,240.7 899.0,241.1 903.0,240.9 907.0,241.1 911.0,240.8 915.0,240.6 919.0,241.6 923.0,249.1 927.0,256.5 931.0,261.1 935.0,264.3 939.0,266.7 943.0,270.0 947.0,272.8 951.0,274.6 955.0,276.5 959.0,278.1 963.0,278.1 967.0,278.9 971.0,277.8 975.0,274.8 979.0,274.2 983.0,273.4 987.0,269.8 991.0,264.2 995.0,264.7 999.0,264.6 1003.0,263.2 1007.0,278.5 1011.0,293.2 1015.0,307.2 1019.0,310.0 1023.0,314.9 1027.0,322.3 1031.0,327.0 1035.0,331.7"/>
</g>
<g shape-rendering="crispEdges">
<rect x="925" y="223" width="195" height="2" fill="#fa2020"/>
<rect x="919" y="269" width="203" height="2" fill="#8cc400"/>
<rect x="1009" y="329" width="124" height="2" fill="#1c46cc"/>
</g>
</svg>
<svg x="3" y="404" width="1303" height="147" viewBox="3 404 1303 147" overflow="hidden">
<polyline fill="none" stroke="#1e90ff" stroke-width="1" shape-rendering="crispEdges" points="3.0,498.6 7.0,498.6 11.0,487.4 15.0,493.4 19.0,491.3 23.0,483.1 27.0,482.5 31.0,476.9 35.0,482.3 39.0,488.9 43.0,489.7 47.0,493.6 51.0,486.5 55.0,487.4 59.0,483.0 63.0,480.2 67.0,481.3 71.0,481.9 75.0,487.8 79.0,504.0 83.0,505.9 87.0,490.9 91.0,474.3 95.0,471.7 99.0,472.1 103.0,474.2 107.0,471.5 111.0,479.1 115.0,481.6 119.0,488.1 123.0,480.6 127.0,473.1 131.0,474.6 135.0,462.6 139.0,466.1 143.0,468.2 147.0,478.8 151.0,475.9 155.0,482.2 159.0,478.0 163.0,476.6 167.0,481.0 171.0,466.1 175.0,462.7 179.0,451.3 183.0,447.6 187.0,446.1 191.0,441.7 195.0,449.8 199.0,440.9 203.0,440.4 207.0,454.6 211.0,460.8 215.0,464.4 219.0,466.9 223.0,465.2 227.0,462.5 231.0,459.4 235.0,460.6 239.0,457.5 243.0,460.2 247.0,457.1 251.0,454.0 255.0,454.5 259.0,457.2 263.0,465.0 267.0,457.8 271.0,454.8 275.0,442.7 279.0,443.9 283.0,447.3 287.0,446.0 291.0,456.1 295.0,449.7 299.0,454.0 303.0,451.8 307.0,453.4 311.0,474.1 315.0,476.9 319.0,475.3 323.0,478.7 327.0,477.4 331.0,474.3 335.0,484.8 339.0,480.6 343.0,493.7 347.0,491.3 351.0,489.8 355.0,492.0 359.0,497.2 363.0,499.8 367.0,482.3 371.0,487.0 375.0,486.5 379.0,483.2 383.0,485.7 387.0,478.1 391.0,476.1 395.0,488.1 399.0,473.4 403.0,478.8 407.0,467.6 411.0,460.9 415.0,457.7 419.0,466.2 423.0,464.6 427.0,468.8 431.0,459.0 435.0,469.8 439.0,464.9 443.0,474.6 447.0,460.3 451.0,460.3 455.0,456.4 459.0,461.2 463.0,464.0 467.0,465.6 471.0,469.7 475.0,467.7 479.0,472.9 483.0,471.9 487.0,475.0 491.0,481.6 495.0,486.3 499.0,483.0 503.0,496.6 507.0,491.0 511.0,486.8 515.0,490.5 519.0,477.1 523.0,478.1 527.0,477.4 531.0,482.6 535.0,480.0 539.0,482.1 543.0,486.0 547.0,483.0 551.0,479.8 555.0,481.2 559.0,483.4 563.0,492.7 567.0,486.7 571.0,489.0 575.0,490.0 579.0,484.0 583.0,475.4 587.0,469.6 591.0,479.8 595.0,485.0 599.0,487.3 603.0,490.6 607.0,482.5 611.0,481.2 615.0,488.8 619.0,488.0 623.0,486.9 627.0,479.8 631.0,478.5 635.0,479.8 639.0,483.2 643.0,487.7 647.0,450.3 651.0,458.7 655.0,453.4 659.0,457.8 663.0,455.0 667.0,459.0 671.0,457.0 675.0,456.9 679.0,460.0 683.0,467.6 687.0,470.7 691.0,466.9 695.0,467.4 699.0,449.9 703.0,447.6 707.0,446.1 711.0,447.4 715.0,456.5 719.0,461.5 723.0,457.1 727.0,451.7 731.0,449.3 735.0,459.6 739.0,467.8 743.0,474.5 747.0,485.6 751.0,488.3 755.0,491.3 759.0,497.3 763.0,498.3 767.0,499.1 771.0,508.8 775.0,509.7 779.0,514.6 783.0,501.9 787.0,504.8 791.0,499.7 795.0,499.1 799.0,499.6 803.0,499.2 807.0,491.9 811.0,498.0 815.0,500.3 819.0,495.2 823.0,497.7 827.0,494.8 831.0,497.0 835.0,505.6 839.0,504.6 843.0,494.8 847.0,496.0 851.0,489.3 855.0,486.8 859.0,492.1 863.0,489.4 867.0,482.2 871.0,486.1 875.0,486.5 879.0,478.7 883.0,476.2 887.0,480.7 891.0,474.6 895.0,469.5 899.0,475.5 903.0,479.1 907.0,477.0 911.0,477.0 915.0,498.2 919.0,499.6 923.0,505.3 927.0,507.0 931.0,498.6 935.0,494.2 939.0,494.2 943.0,496.6 947.0,494.6 951.0,490.2 955.0,491.2 959.0,492.4 963.0,482.0 967.0,487.3 971.0,478.7 975.0,473.3 979.0,491.4 983.0,491.4 987.0,474.8 991.0,478.6 995.0,475.6 999.0,480.9 1003.0,487.0 1007.0,507.9 1011.0,510.1 1015.0,511.9 1019.0,488.8 1023.0,493.7 1027.0,498.0 1031.0,493.2 1035.0,494.1"/>
</svg>
<rect x="1307" y="35" width="3" height="1" fill="#000"/>
<text x="1312" y="39" font-size="10" fill="#000" font-weight="normal" stroke="#000" stroke-width="0.12" textLength="33" lengthAdjust="spacingAndGlyphs">0.74080</text>
<rect x="1307" y="68" width="3" height="1" fill="#000"/>
<text x="1312" y="72" font-size="10" fill="#000" font-weight="normal" stroke="#000" stroke-width="0.12" textLength="33" lengthAdjust="spacingAndGlyphs">0.73720</text>
<rect x="1307" y="101" width="3" height="1" fill="#000"/>
<text x="1312" y="105" font-size="10" fill="#000" font-weight="normal" stroke="#000" stroke-width="0.12" textLength="33" lengthAdjust="spacingAndGlyphs">0.73360</text>
<rect x="1307" y="134" width="3" height="1" fill="#000"/>
<text x="1312" y="138" font-size="10" fill="#000" font-weight="normal" stroke="#000" stroke-width="0.12" textLength="33" lengthAdjust="spacingAndGlyphs">0.73000</text>
<rect x="1307" y="167" width="3" height="1" fill="#000"/>
<text x="1312" y="171" font-size="10" fill="#000" font-weight="normal" stroke="#000" stroke-width="0.12" textLength="33" lengthAdjust="spacingAndGlyphs">0.72640</text>
<rect x="1307" y="200" width="3" height="1" fill="#000"/>
<text x="1312" y="204" font-size="10" fill="#000" font-weight="normal" stroke="#000" stroke-width="0.12" textLength="33" lengthAdjust="spacingAndGlyphs">0.72280</text>
<rect x="1307" y="233" width="3" height="1" fill="#000"/>
<text x="1312" y="237" font-size="10" fill="#000" font-weight="normal" stroke="#000" stroke-width="0.12" textLength="33" lengthAdjust="spacingAndGlyphs">0.71920</text>
<rect x="1307" y="266" width="3" height="1" fill="#000"/>
<text x="1312" y="270" font-size="10" fill="#000" font-weight="normal" stroke="#000" stroke-width="0.12" textLength="33" lengthAdjust="spacingAndGlyphs">0.71560</text>
<rect x="1307" y="299" width="3" height="1" fill="#000"/>
<text x="1312" y="303" font-size="10" fill="#000" font-weight="normal" stroke="#000" stroke-width="0.12" textLength="33" lengthAdjust="spacingAndGlyphs">0.71200</text>
<rect x="1307" y="332" width="3" height="1" fill="#000"/>
<text x="1312" y="336" font-size="10" fill="#000" font-weight="normal" stroke="#000" stroke-width="0.12" textLength="33" lengthAdjust="spacingAndGlyphs">0.70850</text>
<rect x="1307" y="365" width="3" height="1" fill="#000"/>
<text x="1312" y="369" font-size="10" fill="#000" font-weight="normal" stroke="#000" stroke-width="0.12" textLength="33" lengthAdjust="spacingAndGlyphs">0.70490</text>
<rect x="1307" y="398" width="3" height="1" fill="#000"/>
<text x="1312" y="402" font-size="10" fill="#000" font-weight="normal" stroke="#000" stroke-width="0.12" textLength="33" lengthAdjust="spacingAndGlyphs">0.70130</text>
<rect x="3" y="552" width="1" height="3" fill="#000"/>
<text x="2.5" y="564" font-size="10" fill="#000" font-weight="normal" stroke="#000" stroke-width="0.12" textLength="51.0" lengthAdjust="spacingAndGlyphs">23 Oct 2018</text>
<rect x="67" y="552" width="1" height="3" fill="#000"/>
<text x="66.5" y="564" font-size="10" fill="#000" font-weight="normal" stroke="#000" stroke-width="0.12" textLength="53.6" lengthAdjust="spacingAndGlyphs">25 Oct 22:00</text>
<rect x="131" y="552" width="1" height="3" fill="#000"/>
<text x="130.5" y="564" font-size="10" fill="#000" font-weight="normal" stroke="#000" stroke-width="0.12" textLength="53.6" lengthAdjust="spacingAndGlyphs">30 Oct 14:00</text>
<rect x="195" y="552" width="1" height="3" fill="#000"/>
<text x="194.5" y="564" font-size="10" fill="#000" font-weight="normal" stroke="#000" stroke-width="0.12" textLength="50.5" lengthAdjust="spacingAndGlyphs">2 Nov 04:00</text>
<rect x="259" y="552" width="1" height="3" fill="#000"/>
<text x="258.5" y="564" font-size="10" fill="#000" font-weight="normal" stroke="#000" stroke-width="0.12" textLength="50.5" lengthAdjust="spacingAndGlyphs">6 Nov 23:00</text>
<rect x="323" y="552" width="1" height="3" fill="#000"/>
<text x="322.5" y="564" font-size="10" fill="#000" font-weight="normal" stroke="#000" stroke-width="0.12" textLength="50.5" lengthAdjust="spacingAndGlyphs">9 Nov 15:00</text>
<rect x="387" y="552" width="1" height="3" fill="#000"/>
<text x="386.5" y="564" font-size="10" fill="#000" font-weight="normal" stroke="#000" stroke-width="0.12" textLength="55.7" lengthAdjust="spacingAndGlyphs">14 Nov 04:00</text>
<rect x="451" y="552" width="1" height="3" fill="#000"/>
<text x="450.5" y="564" font-size="10" fill="#000" font-weight="normal" stroke="#000" stroke-width="0.12" textLength="55.7" lengthAdjust="spacingAndGlyphs">16 Nov 23:00</text>
<rect x="515" y="552" width="1" height="3" fill="#000"/>
<text x="514.5" y="564" font-size="10" fill="#000" font-weight="normal" stroke="#000" stroke-width="0.12" textLength="55.7" lengthAdjust="spacingAndGlyphs">21 Nov 15:00</text>
<rect x="579" y="552" width="1" height="3" fill="#000"/>
<text x="578.5" y="564" font-size="10" fill="#000" font-weight="normal" stroke="#000" stroke-width="0.12" textLength="55.7" lengthAdjust="spacingAndGlyphs">26 Nov 07:00</text>
<rect x="643" y="552" width="1" height="3" fill="#000"/>
<text x="642.5" y="564" font-size="10" fill="#000" font-weight="normal" stroke="#000" stroke-width="0.12" textLength="55.7" lengthAdjust="spacingAndGlyphs">28 Nov 23:00</text>
<rect x="707" y="552" width="1" height="3" fill="#000"/>
<text x="706.5" y="564" font-size="10" fill="#000" font-weight="normal" stroke="#000" stroke-width="0.12" textLength="50.5" lengthAdjust="spacingAndGlyphs">3 Dec 15:00</text>
<rect x="771" y="552" width="1" height="3" fill="#000"/>
<text x="770.5" y="564" font-size="10" fill="#000" font-weight="normal" stroke="#000" stroke-width="0.12" textLength="50.5" lengthAdjust="spacingAndGlyphs">6 Dec 04:00</text>
<rect x="835" y="552" width="1" height="3" fill="#000"/>
<text x="834.5" y="564" font-size="10" fill="#000" font-weight="normal" stroke="#000" stroke-width="0.12" textLength="55.7" lengthAdjust="spacingAndGlyphs">10 Dec 23:00</text>
<rect x="899" y="552" width="1" height="3" fill="#000"/>
<text x="898.5" y="564" font-size="10" fill="#000" font-weight="normal" stroke="#000" stroke-width="0.12" textLength="55.7" lengthAdjust="spacingAndGlyphs">13 Dec 15:00</text>
<rect x="963" y="552" width="1" height="3" fill="#000"/>
<text x="962.5" y="564" font-size="10" fill="#000" font-weight="normal" stroke="#000" stroke-width="0.12" textLength="55.7" lengthAdjust="spacingAndGlyphs">18 Dec 04:00</text>
<rect x="1027" y="552" width="1" height="3" fill="#000"/>
<text x="1026.5" y="564" font-size="10" fill="#000" font-weight="normal" stroke="#000" stroke-width="0.12" textLength="55.7" lengthAdjust="spacingAndGlyphs">20 Dec 23:00</text>
<rect x="1307" y="404" width="2" height="1" fill="#000"/>
<text x="1310" y="414" font-size="10" fill="#000" font-weight="normal" stroke="#000" stroke-width="0.12" textLength="15" lengthAdjust="spacingAndGlyphs">100</text>
<rect x="1307" y="448" width="3" height="1" fill="#000"/>
<text x="1309" y="452" font-size="10" fill="#000" font-weight="normal" stroke="#000" stroke-width="0.12" textLength="10" lengthAdjust="spacingAndGlyphs">70</text>
<rect x="1307" y="507" width="3" height="1" fill="#000"/>
<text x="1309" y="511" font-size="10" fill="#000" font-weight="normal" stroke="#000" stroke-width="0.12" textLength="10" lengthAdjust="spacingAndGlyphs">30</text>
<rect x="1307" y="550" width="3" height="1" fill="#000"/>
<text x="1310" y="548" font-size="10" fill="#000" font-weight="normal" stroke="#000" stroke-width="0.12" textLength="5" lengthAdjust="spacingAndGlyphs">0</text>
<text x="7.5" y="416" font-size="10" fill="#000" font-weight="normal" stroke="#000" stroke-width="0.12" textLength="67" lengthAdjust="spacingAndGlyphs">RSI(14) 38.5589</text>
<g shape-rendering="crispEdges">
<rect x="0" y="8" width="1" height="1" fill="#606060"/>
<rect x="0" y="20" width="1" height="1" fill="#606060"/>
<rect x="2" y="8" width="1" height="1" fill="#606060"/>
<rect x="2" y="20" width="1" height="1" fill="#606060"/>
<rect x="4" y="8" width="1" height="1" fill="#606060"/>
<rect x="4" y="20" width="1" height="1" fill="#606060"/>
<rect x="6" y="8" width="1" height="1" fill="#606060"/>
<rect x="6" y="20" width="1" height="1" fill="#606060"/>
<rect x="7" y="8" width="1" height="1" fill="#606060"/>
<rect x="7" y="10" width="1" height="1" fill="#606060"/>
<rect x="7" y="12" width="1" height="1" fill="#606060"/>
<rect x="7" y="14" width="1" height="1" fill="#606060"/>
<rect x="7" y="16" width="1" height="1" fill="#606060"/>
<rect x="7" y="18" width="1" height="1" fill="#606060"/>
<rect x="7" y="20" width="1" height="1" fill="#606060"/>
<rect x="0" y="11" width="6" height="1" fill="#505050"/><rect x="1" y="11" width="2" height="7" fill="#505050"/>
<rect x="59" y="4" width="3" height="1" fill="#a0a0a0"/>
<rect x="59" y="6" width="3" height="1" fill="#a0a0a0"/>
<rect x="59" y="8" width="3" height="1" fill="#a0a0a0"/>
<rect x="59" y="10" width="3" height="1" fill="#a0a0a0"/>
<rect x="59" y="12" width="3" height="1" fill="#a0a0a0"/>
<rect x="59" y="14" width="3" height="1" fill="#a0a0a0"/>
<rect x="59" y="16" width="3" height="1" fill="#a0a0a0"/>
<rect x="59" y="18" width="3" height="1" fill="#a0a0a0"/>
<rect x="59" y="20" width="3" height="1" fill="#a0a0a0"/>
<rect x="59" y="22" width="3" height="1" fill="#a0a0a0"/>
<defs><pattern id="chk" x="0" y="0" width="2" height="2" patternUnits="userSpaceOnUse"><rect width="2" height="2" fill="#fbfbfb"/><rect width="1" height="1" fill="#e6e6e6"/><rect x="1" y="1" width="1" height="1" fill="#e6e6e6"/></pattern></defs>
<rect x="205" y="2" width="25" height="22" fill="url(#chk)"/>
<rect x="205" y="2" width="25" height="1" fill="#a0a0a0"/><rect x="205" y="2" width="1" height="22" fill="#a0a0a0"/>
<rect x="230" y="2" width="1" height="23" fill="#ffffff"/><rect x="205" y="24" width="26" height="1" fill="#ffffff"/>
</g>
<path d="M23,11.5 L26.5,8 L30,11.5 L28.5,11.5 L28.5,13 L25,13 L25,11.5 Z" fill="#505050"/>
<path d="M25,15 L27.5,17.5 L32,12.5" fill="none" stroke="#505050" stroke-width="1.3"/>
<path d="M32,16 L35,16 L35,17.5 L37,17.5 L33.5,21 L30,17.5 L32,17.5 Z" fill="#505050"/>
<path d="M44,13 L49.5,13 L46.75,16 Z" fill="#000"/>
<text x="70.8" y="18" font-size="10" fill="#303030" font-weight="normal" textLength="12.4" lengthAdjust="spacingAndGlyphs">M1</text>
<text x="98.5" y="18" font-size="10" fill="#303030" font-weight="normal" textLength="12.6" lengthAdjust="spacingAndGlyphs">M5</text>
<text x="124.7" y="18" font-size="10" fill="#303030" font-weight="normal" textLength="17.3" lengthAdjust="spacingAndGlyphs">M15</text>
<text x="152.7" y="18" font-size="10" fill="#303030" font-weight="normal" textLength="17.3" lengthAdjust="spacingAndGlyphs">M30</text>
<text x="183.7" y="18" font-size="10" fill="#303030" font-weight="normal" textLength="11.5" lengthAdjust="spacingAndGlyphs">H1</text>
<text x="210.3" y="18" font-size="10" fill="#303030" font-weight="normal" textLength="12.4" lengthAdjust="spacingAndGlyphs">H4</text>
<text x="239.5" y="18" font-size="10" fill="#303030" font-weight="normal" textLength="11.8" lengthAdjust="spacingAndGlyphs">D1</text>
<text x="266.8" y="18" font-size="10" fill="#303030" font-weight="normal" textLength="14.6" lengthAdjust="spacingAndGlyphs">W1</text>
<text x="293.3" y="18" font-size="10" fill="#303030" font-weight="normal" textLength="14.9" lengthAdjust="spacingAndGlyphs">MN</text><path d="M6,40.5 L9.5,36.5 L13,40.5 Z" fill="#000"/>
<text x="19" y="42" font-size="10" fill="#000" font-weight="normal" stroke="#000" stroke-width="0.12" textLength="54.6" lengthAdjust="spacingAndGlyphs">AUDUSD,H4</text>
<text x="80.0" y="42" font-size="10" fill="#000" font-weight="normal" stroke="#000" stroke-width="0.12" textLength="32.3" lengthAdjust="spacingAndGlyphs">0.71197</text>
<text x="116.2" y="42" font-size="10" fill="#000" font-weight="normal" stroke="#000" stroke-width="0.12" textLength="32.3" lengthAdjust="spacingAndGlyphs">0.71228</text>
<text x="152.4" y="42" font-size="10" fill="#000" font-weight="normal" stroke="#000" stroke-width="0.12" textLength="32.3" lengthAdjust="spacingAndGlyphs">0.71011</text>
<text x="188.60000000000002" y="42" font-size="10" fill="#000" font-weight="normal" stroke="#000" stroke-width="0.12" textLength="32.3" lengthAdjust="spacingAndGlyphs">0.71158</text><defs>
<linearGradient id="gUp" x1="0" y1="50" x2="0" y2="74" gradientUnits="userSpaceOnUse"><stop offset="0" stop-color="#5c5cff"/><stop offset="1" stop-color="#3a3aea"/></linearGradient>
<linearGradient id="gLo" x1="0" y1="74" x2="0" y2="114" gradientUnits="userSpaceOnUse"><stop offset="0" stop-color="#3434e4"/><stop offset="1" stop-color="#0000b4"/></linearGradient>
<linearGradient id="gBtn" x1="0" y1="52" x2="0" y2="70" gradientUnits="userSpaceOnUse"><stop offset="0" stop-color="#f2f2f2"/><stop offset="0.4" stop-color="#e8e8e8"/><stop offset="0.45" stop-color="#d8d8d8"/><stop offset="1" stop-color="#d4d4d4"/></linearGradient>
</defs>
<g shape-rendering="crispEdges">
<rect x="58" y="50" width="115" height="24" fill="#fff"/>
<rect x="6" y="50" width="52" height="24" fill="#0000a8"/>
<rect x="7" y="51" width="50" height="23" fill="url(#gUp)"/>
<rect x="173" y="50" width="52" height="24" fill="#0000a8"/>
<rect x="174" y="51" width="50" height="23" fill="url(#gUp)"/>
<rect x="6" y="74" width="109" height="40" fill="#0000a8"/>
<rect x="7" y="74" width="107" height="39" fill="url(#gLo)"/>
<rect x="117" y="74" width="108" height="40" fill="#0000a8"/>
<rect x="118" y="74" width="106" height="39" fill="url(#gLo)"/>
<rect x="7" y="73" width="50" height="2" fill="#3838e8"/>
<rect x="174" y="73" width="50" height="2" fill="#3838e8"/>
<rect x="10" y="73" width="45" height="1" fill="#1a1ab8"/><rect x="10" y="74" width="45" height="1" fill="#7070f4"/>
<rect x="177" y="73" width="45" height="1" fill="#1a1ab8"/><rect x="177" y="74" width="45" height="1" fill="#7070f4"/>
<rect x="60" y="50" width="111" height="22" fill="#a9acb2"/>
<rect x="61" y="51" width="109" height="20" fill="#fff"/>
<rect x="61" y="51" width="21" height="20" fill="#fff"/>
<rect x="62" y="52" width="19" height="18" fill="url(#gBtn)"/>
<rect x="149" y="51" width="21" height="20" fill="#fff"/>
<rect x="150" y="52" width="19" height="18" fill="url(#gBtn)"/>
<rect x="81" y="51" width="1" height="20" fill="#a9acb2"/>
<rect x="149" y="51" width="1" height="20" fill="#a9acb2"/>
</g>
<path d="M68,59 L73,59 L70.5,62 Z" fill="#3d5cc8"/>
<path d="M157,62 L162,62 L159.5,59 Z" fill="#3d5cc8"/>
<text x="122" y="65" font-size="12" fill="#000" font-weight="normal" stroke="#000" stroke-width="0.12" textLength="23.5" lengthAdjust="spacingAndGlyphs">0.50</text>
<text x="18.6" y="66" font-size="12" fill="#fff" font-weight="normal" stroke="#fff" stroke-width="0.12" textLength="25" lengthAdjust="spacingAndGlyphs">SELL</text>
<text x="186.7" y="66" font-size="12" fill="#fff" font-weight="normal" stroke="#fff" stroke-width="0.12" textLength="23.3" lengthAdjust="spacingAndGlyphs">BUY</text>
<text x="26" y="105" font-size="11.5" fill="#fff" font-weight="bold" textLength="23.4" lengthAdjust="spacingAndGlyphs">0.71</text>
<text x="55" y="105" font-size="34" fill="#fff" font-weight="normal" textLength="32" lengthAdjust="spacingAndGlyphs">15</text>
<text x="93" y="89" font-size="11" fill="#fff" font-weight="bold" textLength="7" lengthAdjust="spacingAndGlyphs">8</text>
<text x="136" y="105" font-size="11.5" fill="#fff" font-weight="bold" textLength="23.4" lengthAdjust="spacingAndGlyphs">0.71</text>
<text x="166" y="105" font-size="34" fill="#fff" font-weight="normal" textLength="32.5" lengthAdjust="spacingAndGlyphs">18</text>
<text x="205" y="89" font-size="11" fill="#fff" font-weight="bold" textLength="6.5" lengthAdjust="spacingAndGlyphs">0</text><g shape-rendering="crispEdges">
<rect x="0" y="572" width="1351" height="1" fill="#e0e0e0"/>
<rect x="0" y="575" width="1351" height="19" fill="#f0f0f0"/>
<rect x="0" y="574" width="1351" height="1" fill="#000"/>
<rect x="108" y="574" width="92" height="19" fill="#000"/>
<rect x="109" y="574" width="90" height="18" fill="#fff"/>
<rect x="0" y="594" width="1351" height="1" fill="#fafafa"/>
<rect x="0" y="598" width="1351" height="1" fill="#a0a0a0"/>
<rect x="0" y="599" width="1351" height="1" fill="#ffffff"/>
<rect x="1349" y="575" width="1" height="19" fill="#e0e0e0"/>
<rect x="288" y="578" width="1" height="12" fill="#808080"/>
<rect x="380" y="578" width="1" height="12" fill="#808080"/>
<rect x="472" y="578" width="1" height="12" fill="#808080"/>
<rect x="568" y="578" width="1" height="12" fill="#808080"/>
<rect x="664" y="578" width="1" height="12" fill="#808080"/>
<rect x="780" y="578" width="1" height="12" fill="#808080"/>
<rect x="856" y="578" width="1" height="12" fill="#808080"/>
</g>
<text x="16.7" y="589" font-size="12" fill="#6a6a6a" font-weight="normal" stroke="#6a6a6a" stroke-width="0.12" textLength="79.2" lengthAdjust="spacingAndGlyphs">EURUSD,Daily</text>
<text x="119.2" y="589" font-size="12" fill="#000" font-weight="normal" stroke="#000" stroke-width="0.12" textLength="69.6" lengthAdjust="spacingAndGlyphs">AUDUSD,H4</text>
<text x="210.7" y="589" font-size="12" fill="#6a6a6a" font-weight="normal" stroke="#6a6a6a" stroke-width="0.12" textLength="66.0" lengthAdjust="spacingAndGlyphs">USDCHF,H4</text>
<text x="299.5" y="589" font-size="12" fill="#6a6a6a" font-weight="normal" stroke="#6a6a6a" stroke-width="0.12" textLength="68.2" lengthAdjust="spacingAndGlyphs">USDCAD,H1</text>
<text x="390.4" y="589" font-size="12" fill="#6a6a6a" font-weight="normal" stroke="#6a6a6a" stroke-width="0.12" textLength="70.6" lengthAdjust="spacingAndGlyphs">USDCNH,H4</text>
<text x="483.2" y="589" font-size="12" fill="#6a6a6a" font-weight="normal" stroke="#6a6a6a" stroke-width="0.12" textLength="72.2" lengthAdjust="spacingAndGlyphs">USDJPY,M15</text>
<text x="580" y="589" font-size="12" fill="#6a6a6a" font-weight="normal" stroke="#6a6a6a" stroke-width="0.12" textLength="71.7" lengthAdjust="spacingAndGlyphs">XAUUSD,M5</text>
<text x="675.7" y="589" font-size="12" fill="#6a6a6a" font-weight="normal" stroke="#6a6a6a" stroke-width="0.12" textLength="93.6" lengthAdjust="spacingAndGlyphs">GBPUSD,Weekly</text>
<text x="791.7" y="589" font-size="12" fill="#6a6a6a" font-weight="normal" stroke="#6a6a6a" stroke-width="0.12" textLength="53.3" lengthAdjust="spacingAndGlyphs">SP500,H1</text>
<path d="M1322,579.5 L1322,586.5 L1318.5,583 Z" fill="#909090"/>
<path d="M1338,579.5 L1338,586.5 L1341.5,583 Z" fill="#909090"/>
<rect x="1308" y="298" width="42" height="11" fill="#000"/>
<rect x="1306" y="299" width="2" height="1" fill="#000"/>
<text x="1312" y="307" font-size="10" fill="#fff" font-weight="normal" stroke="#fff" stroke-width="0.12" textLength="33" lengthAdjust="spacingAndGlyphs">0.71158</text>
</svg>
</body></html>
